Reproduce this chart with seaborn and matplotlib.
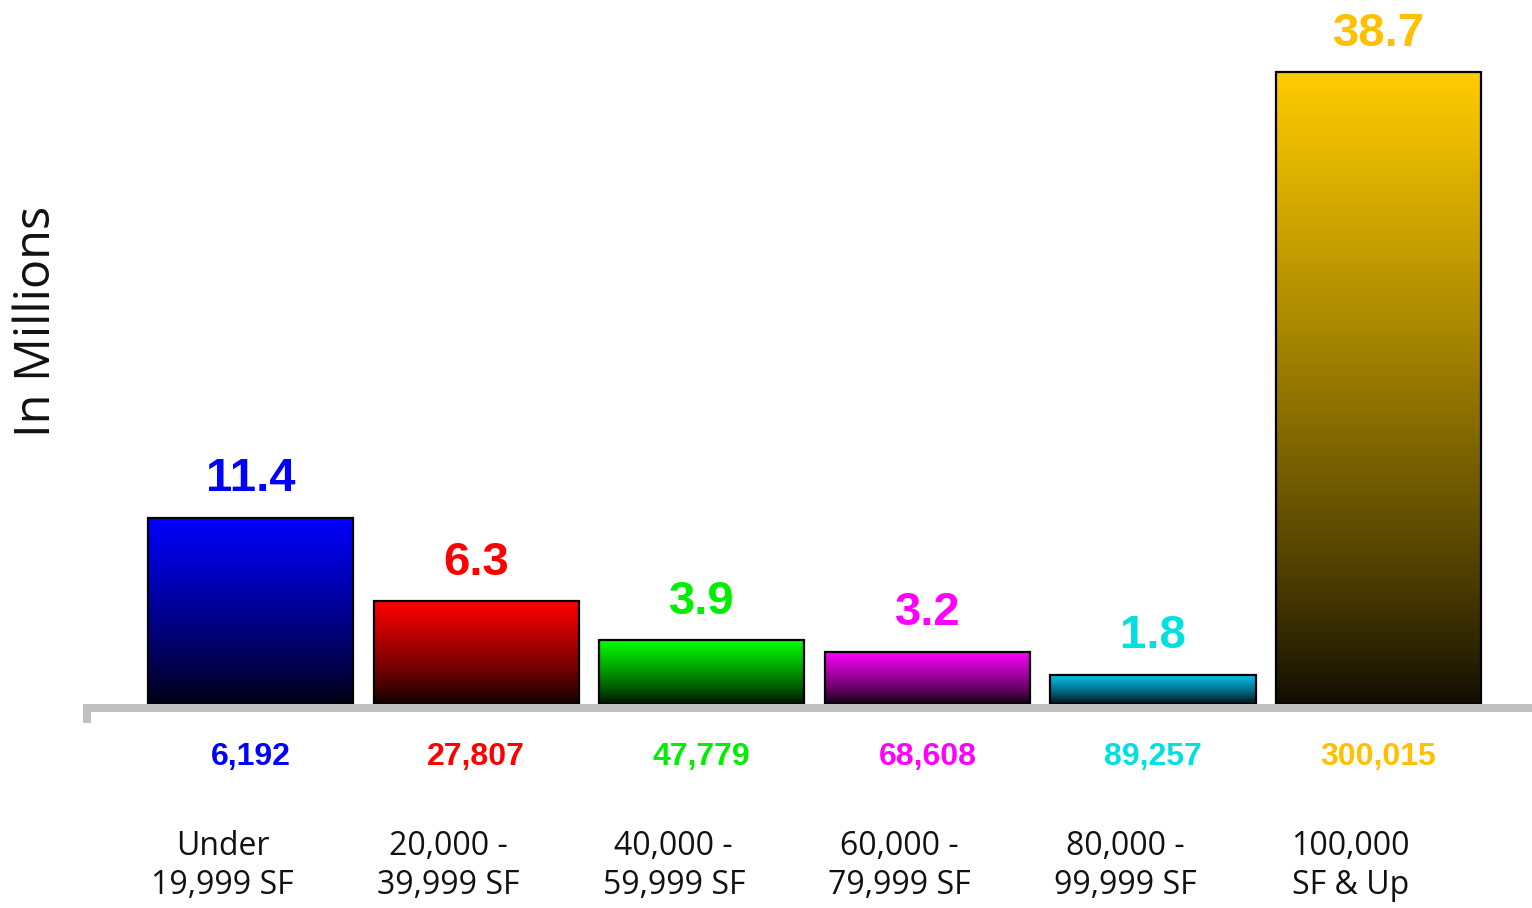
import matplotlib
matplotlib.use("Agg")
import matplotlib.pyplot as plt
import matplotlib.transforms as mtransforms
from matplotlib.lines import Line2D
from matplotlib.colors import to_rgb
import seaborn as sns
import numpy as np
import pandas as pd

# ---- data ----
categories = ["Under\n19,999 SF", "20,000 -\n39,999 SF", "40,000 -\n59,999 SF",
              "60,000 -\n79,999 SF", "80,000 -\n99,999 SF", "100,000\nSF & Up"]
values = [11.4, 6.3, 3.9, 3.2, 1.8, 38.7]
value_labels = ["11.4", "6.3", "3.9", "3.2", "1.8", "38.7"]
counts = ["6,192", "27,807", "47,779", "68,608", "89,257", "300,015"]
bar_colors = ["#0000ff", "#ff0000", "#00ff00", "#ff00ff", "#00c8f5", "#ffcc00"]
label_colors = ["#0000ff", "#ff0000", "#00ee00", "#ff00ff", "#00e0e0", "#ffc000"]
y_label = "In Millions"

W, H = 1532, 908
sns.set_theme(style="white")
plt.rcParams["font.family"] = ["Liberation Sans", "DejaVu Sans"]

fig = plt.figure(figsize=(W / 100, H / 100), dpi=100)
base_px = 704
ax = fig.add_axes([85 / W, (H - base_px) / H, (W - 85) / W, base_px / H])

df = pd.DataFrame({"cat": categories, "val": values})
sns.barplot(data=df, x="cat", y="val", hue="cat", palette=bar_colors,
            legend=False, width=0.91, saturation=1, ax=ax)

# gradient fill for each bar (colour at top fading to near-black at bottom)
for patch, col in zip(ax.patches, bar_colors):
    x0, y0 = patch.get_x(), patch.get_y()
    w, h = patch.get_width(), patch.get_height()
    c = np.array(to_rgb(col))
    t = np.linspace(1, 0, 256)[:, None]          # top -> bottom
    shade = 0.06 + 0.94 * t ** 0.85
    img = (c[None, :] * shade)[:, None, :]
    im = ax.imshow(img, extent=[x0, x0 + w, y0, y0 + h], aspect="auto",
                   origin="upper", zorder=2, interpolation="bilinear")
    im.set_clip_path(patch)
    patch.set_facecolor("none")
    patch.set_edgecolor("black")
    patch.set_linewidth(1.6)
    patch.set_zorder(3)
ax.set_xlim(-0.734, 5.68)
ax.set_ylim(0, 43.11)

# value labels above bars
for i, (v, lab, col) in enumerate(zip(values, value_labels, label_colors)):
    ax.annotate(lab, xy=(i, v), xytext=(0, 19), textcoords="offset points",
                ha="center", va="baseline", fontsize=34, fontweight="bold",
                color=col, family=["Liberation Sans", "DejaVu Sans"])

# count labels under the axis
blend = mtransforms.blended_transform_factory(ax.transData, ax.transAxes)
for i, (cnt, col) in enumerate(zip(counts, label_colors)):
    ax.text(i, (base_px - 765) / base_px, cnt, transform=blend, ha="center",
            va="baseline", fontsize=23, fontweight="bold", color=col,
            family=["Liberation Sans", "DejaVu Sans"], clip_on=False)

# category labels
shift = mtransforms.ScaledTranslation(-28 / 100, 0, fig.dpi_scale_trans)
for i, cat in enumerate(categories):
    ax.text(i, (base_px - 830) / base_px, cat, transform=blend + shift,
            ha="center", va="top", fontsize=23, color="#111111",
            family=["Open Sans", "DejaVu Sans"], linespacing=1.24,
            multialignment="center", clip_on=False)

ax.set_xticks([])
ax.set_yticks([])
ax.set_xlabel("")
ax.set_ylabel("")
for s in ax.spines.values():
    s.set_visible(False)

# grey axis line with small left stub
px = lambda x, y: (x / W, (H - y) / H)
pts = [px(87, 723), px(87, 708), px(W + 5, 708)]
fig.add_artist(Line2D([p[0] for p in pts], [p[1] for p in pts],
                      transform=fig.transFigure, color="#c0c0c0",
                      linewidth=8 * 0.72, solid_joinstyle="miter",
                      solid_capstyle="butt"))

# y label
fig.text(37 / W, (H - 321) / H, y_label, rotation=90, ha="center", va="center",
         fontsize=35, color="#111111", family=["Open Sans", "DejaVu Sans"])

fig.savefig("out.png", dpi=100)
